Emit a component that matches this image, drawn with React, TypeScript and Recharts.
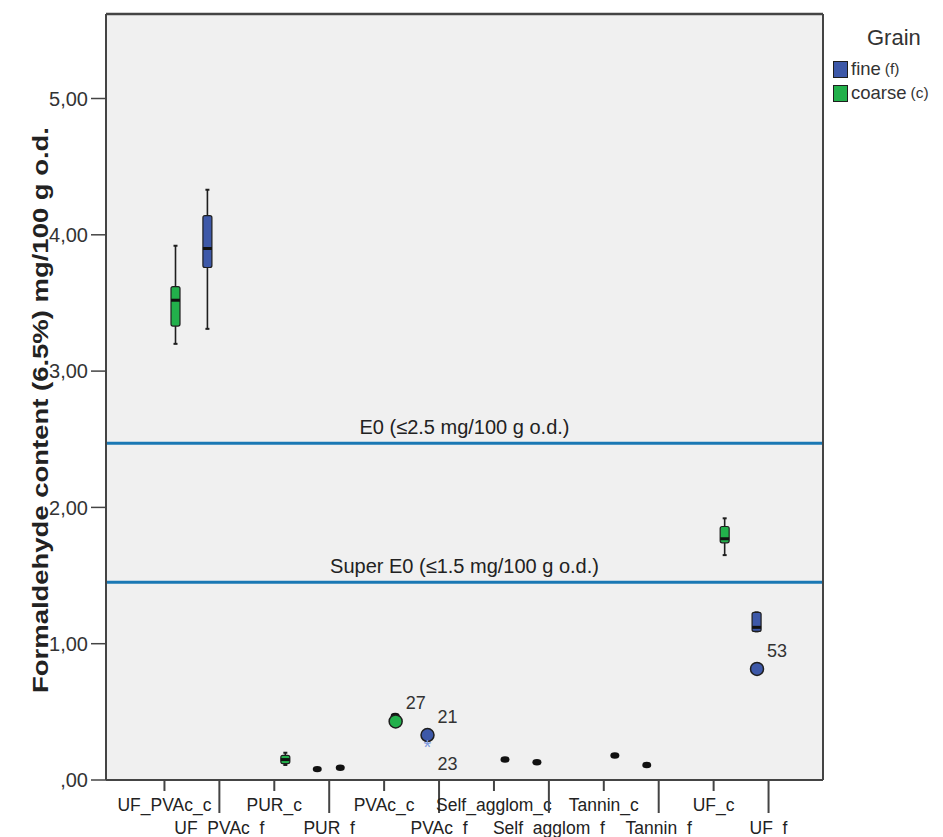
import React from 'react';
import { ComposedChart, Bar, Scatter, XAxis, YAxis, CartesianGrid, ReferenceLine } from 'recharts';

const categories = [
  'UF_PVAc_c', 'UF_PVAc_f', 'PUR_c', 'PUR_f', 'PVAc_c', 'PVAc_f',
  'Self_agglom_c', 'Self_agglom_f', 'Tannin_c', 'Tannin_f', 'UF_c', 'UF_f',
];

// [min, q1, median, q3, max] for each category, null where that grain has no box
const fineBoxes: (number[] | null)[] = [
  null, [3.31, 3.76, 3.9, 4.14, 4.33], null, [0.08, 0.08, 0.08, 0.08, 0.08], null, null,
  null, [0.13, 0.13, 0.13, 0.13, 0.13], null, [0.11, 0.11, 0.11, 0.11, 0.11], null, [1.09, 1.09, 1.12, 1.23, 1.23],
];
const coarseBoxes: (number[] | null)[] = [
  [3.2, 3.33, 3.52, 3.62, 3.92], null, [0.11, 0.12, 0.15, 0.18, 0.2], [0.09, 0.09, 0.09, 0.09, 0.09], [0.47, 0.47, 0.47, 0.47, 0.47], null,
  [0.15, 0.15, 0.15, 0.15, 0.15], null, [0.18, 0.18, 0.18, 0.18, 0.18], null, [1.65, 1.74, 1.77, 1.86, 1.92], null,
];

const outliers = [
  { category: 'PVAc_c', grain: 'coarse', value: 0.43, id: '27', mark: 'circle' },
  { category: 'PVAc_f', grain: 'fine', value: 0.33, id: '21', mark: 'circle' },
  { category: 'PVAc_f', grain: 'fine', value: 0.25, id: '23', mark: 'star' },
  { category: 'UF_f', grain: 'fine', value: 0.815, id: '53', mark: 'circle' },
];

const limits = [
  { label: 'E0 (≤2.5 mg/100 g o.d.)', value: 2.47 },
  { label: 'Super E0 (≤1.5 mg/100 g o.d.)', value: 1.45 },
];

const yTicks = [0, 1, 2, 3, 4, 5];
const yMax = 5.62;

const FINE = '#3d58a8';
const COARSE = '#22b04b';
const EDGE = '#1e1e1e';
// cluster offset of a grain inside its category, in category units
const OFFSET = 0.21;

const rows = categories.map((name, i) => ({ name, fine: fineBoxes[i], coarse: coarseBoxes[i] }));

const points = outliers.map((o) => ({
  ...o,
  x: categories.indexOf(o.category) + (o.grain === 'fine' ? -OFFSET : OFFSET),
}));

function BoxShape(props: any) {
  const { x, y, width, height, payload, grain, color } = props;
  const stats = payload && payload[grain];
  if (!stats) return null;
  const [min, q1, med, q3, max] = stats;
  const top = Math.min(y, y + height);
  const bottom = Math.max(y, y + height);
  const cx = x + width / 2;
  if (max === min) {
    return <ellipse cx={cx} cy={top} rx={4.5} ry={3.2} fill="#111" />;
  }
  const py = (v: number) => top + ((max - v) / (max - min)) * (bottom - top);
  return (
    <g>
      <line x1={cx} x2={cx} y1={py(max)} y2={py(q3)} stroke={EDGE} strokeWidth={1.6} />
      <line x1={cx} x2={cx} y1={py(q1)} y2={py(min)} stroke={EDGE} strokeWidth={1.6} />
      <line x1={cx - 2} x2={cx + 2} y1={py(max)} y2={py(max)} stroke={EDGE} strokeWidth={2} />
      <line x1={cx - 2} x2={cx + 2} y1={py(min)} y2={py(min)} stroke={EDGE} strokeWidth={2} />
      <rect x={x} y={py(q3)} width={width} height={py(q1) - py(q3)} rx={2} fill={color} stroke={EDGE} strokeWidth={1.2} />
      <line x1={x} x2={x + width} y1={py(med)} y2={py(med)} stroke="#111" strokeWidth={3} />
    </g>
  );
}

function OutlierShape(props: any) {
  const { cx, cy, payload } = props;
  const color = payload.grain === 'fine' ? FINE : COARSE;
  const below = payload.mark === 'star';
  return (
    <g>
      {payload.mark === 'star' ? (
        <text x={cx} y={cy + 8} textAnchor="middle" fontSize={20} fill="#7f9be0">*</text>
      ) : (
        <circle cx={cx} cy={cy} r={6.5} fill={color} stroke={EDGE} strokeWidth={1.5} />
      )}
      <text x={cx + 10} y={below ? cy + 24 : cy - 12} fontSize={18} fill="#333">
        {payload.id}
      </text>
    </g>
  );
}

function CategoryTick(props: any) {
  const { x, y, payload, index } = props;
  const low = index % 2 === 1;
  return (
    <g>
      <line x1={x} x2={x} y1={y} y2={y + (low ? 33 : 11)} stroke="#444" strokeWidth={2} />
      <text x={x} y={y + (low ? 54 : 31)} textAnchor="middle" fontSize={17.5} fill="#222">
        {payload.value}
      </text>
    </g>
  );
}

const fmt = (v: number) => (v === 0 ? ',00' : v.toFixed(2).replace('.', ','));

export default function App() {
  return (
    <div
      style={{
        position: 'fixed', left: 0, top: 0, width: 943, height: 837,
        background: '#fff', fontFamily: 'Arial, "Liberation Sans", sans-serif',
      }}
    >
      <ComposedChart
        width={943}
        height={837}
        data={rows}
        margin={{ top: 14, right: 119, bottom: 0, left: 0 }}
        barGap={14}
        style={{ fontFamily: 'Arial, "Liberation Sans", sans-serif' }}
      >
        <CartesianGrid horizontal={false} vertical={false} fill="#f0f0f0" />
        <XAxis
          dataKey="name"
          height={57}
          padding={{ left: 31, right: 27 }}
          axisLine={{ stroke: '#444', strokeWidth: 2 }}
          tickLine={false}
          tickSize={0}
          tickMargin={0}
          interval={0}
          tick={<CategoryTick />}
        />
        <XAxis
          xAxisId="n"
          dataKey="x"
          type="number"
          orientation="top"
          domain={[-0.5, 11.5]}
          allowDataOverflow
          padding={{ left: 31, right: 27 }}
          height={0}
          hide
        />
        <YAxis
          width={106}
          domain={[0, yMax]}
          ticks={yTicks}
          allowDataOverflow
          tickFormatter={fmt}
          tickSize={15}
          tickMargin={3}
          tickLine={{ stroke: '#444', strokeWidth: 1.5 }}
          axisLine={{ stroke: '#444', strokeWidth: 2 }}
          tick={{ fontSize: 20, fill: '#333' }}
          label={() => (
            <text
              transform="translate(40, 410) rotate(-90)"
              textAnchor="middle"
              dominantBaseline="central"
              fontSize={22}
              fontWeight="bold"
              fill="#222"
              textLength={566}
              lengthAdjust="spacingAndGlyphs"
            >
              Formaldehyde content (6.5%) mg/100 g o.d.
            </text>
          )}
        />
        <YAxis
          yAxisId="r"
          orientation="right"
          width={1}
          domain={[0, yMax]}
          tick={false}
          tickLine={false}
          axisLine={{ stroke: '#444', strokeWidth: 2 }}
        />
        <ReferenceLine y={yMax} stroke="#444" strokeWidth={2.5} />
        {limits.map((l) => (
          <ReferenceLine
            key={l.label}
            y={l.value}
            stroke="#1a78b4"
            strokeWidth={3}
            label={{ value: l.label, position: 'top', fontSize: 20, fill: '#222', offset: 9 }}
          />
        ))}
        <Bar
          dataKey={(d: any) => (d.fine ? [d.fine[0], d.fine[4]] : null)}
          barSize={9}
          isAnimationActive={false}
          shape={(p: any) => <BoxShape {...p} grain="fine" color={FINE} />}
        />
        <Bar
          dataKey={(d: any) => (d.coarse ? [d.coarse[0], d.coarse[4]] : null)}
          barSize={9}
          isAnimationActive={false}
          shape={(p: any) => <BoxShape {...p} grain="coarse" color={COARSE} />}
        />
        <Scatter
          xAxisId="n"
          data={points}
          dataKey="value"
          isAnimationActive={false}
          shape={(p: any) => <OutlierShape {...p} />}
        />
      </ComposedChart>
      <div style={{ position: 'absolute', left: 833, top: 25, color: '#333' }}>
        <div style={{ fontSize: 22, marginLeft: 34, marginBottom: 6 }}>Grain</div>
        <div style={{ display: 'flex', alignItems: 'center', height: 24 }}>
          <span style={{ width: 13, height: 15, background: FINE, border: `1.5px solid ${EDGE}`, marginRight: 3 }} />
          <span style={{ fontSize: 18.5 }}>fine</span>
          <span style={{ fontSize: 15.5, marginLeft: 4 }}>(f)</span>
        </div>
        <div style={{ display: 'flex', alignItems: 'center', height: 24 }}>
          <span style={{ width: 13, height: 15, background: COARSE, border: `1.5px solid ${EDGE}`, marginRight: 3 }} />
          <span style={{ fontSize: 18.5 }}>coarse</span>
          <span style={{ fontSize: 15.5, marginLeft: 4 }}>(c)</span>
        </div>
      </div>
    </div>
  );
}
